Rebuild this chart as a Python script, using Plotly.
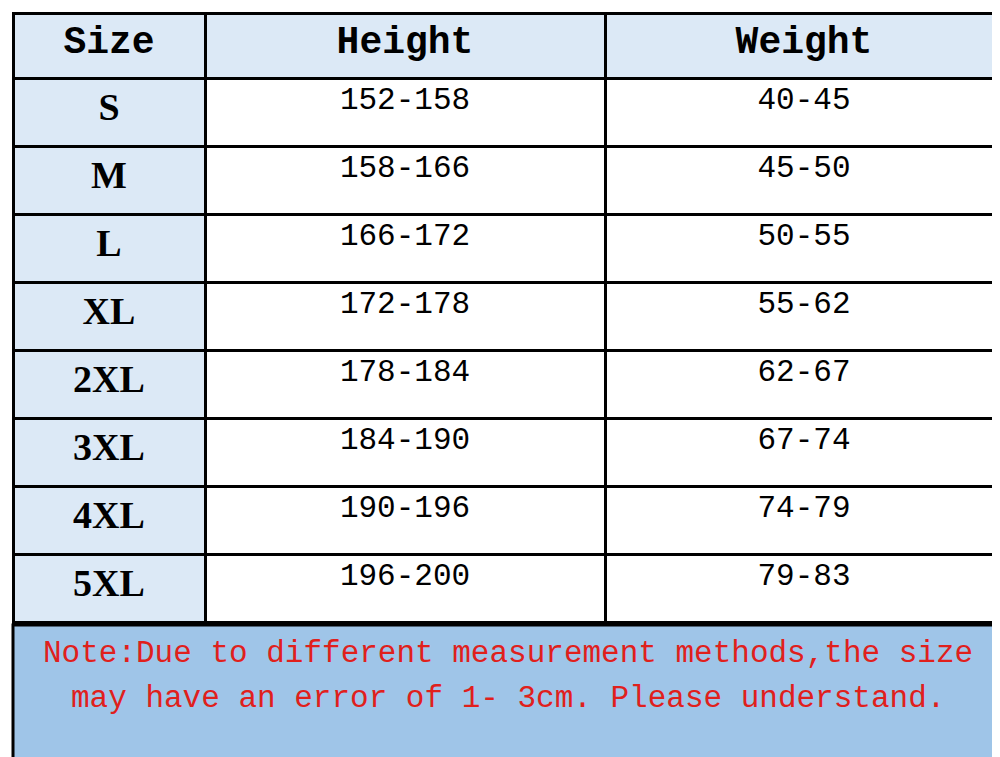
import plotly.graph_objects as go

headers = ["Size", "Height", "Weight"]
sizes = ["S", "M", "L", "XL", "2XL", "3XL", "4XL", "5XL"]
heights = ["152-158", "158-166", "166-172", "172-178", "178-184", "184-190", "190-196", "196-200"]
weights = ["40-45", "45-50", "50-55", "55-62", "62-67", "67-74", "74-79", "79-83"]
note_lines = ["Note:Due to different measurement methods,the size",
              "may have an error of 1- 3cm. Please understand."]

W, H = 1000, 757
light = "#dce9f6"
fig = go.Figure(go.Table(
    columnwidth=[192, 400, 398],
    header=dict(values=[f"<b>{h}</b>" for h in headers], fill_color=light,
                line=dict(color="black", width=3), height=65,
                font=dict(family="Liberation Mono", size=38, color="black"), align="center"),
    cells=dict(values=[[f"<b>{s}</b>" for s in sizes], heights, weights],
               fill_color=[[light]*8, ["white"]*8, ["white"]*8],
               line=dict(color="black", width=3), height=68,
               font=dict(family=["Liberation Serif", "Liberation Mono", "Liberation Mono"],
                         size=[38, 31, 31], color="black"),
               align="center"),
    domain=dict(x=[0, 1], y=[0.17, 1]),
))
fig.add_shape(type="rect", xref="paper", yref="paper", x0=0, x1=1,
              y0=0, y1=(752 - 617) / (H - 10), fillcolor="#9fc5e8",
              line=dict(color="black", width=3), layer="below")
for t, yy in zip(note_lines, [665, 710]):
    fig.add_annotation(xref="paper", yref="paper", x=0.5, y=(H - 5 - yy) / (H - 10),
                       text=t, showarrow=False,
                       font=dict(family="Liberation Mono", size=31, color="#e0201c"))
fig.update_layout(width=W, height=H, margin=dict(l=5, r=5, t=5, b=5),
                  paper_bgcolor="white")
fig.write_html("out.html")
